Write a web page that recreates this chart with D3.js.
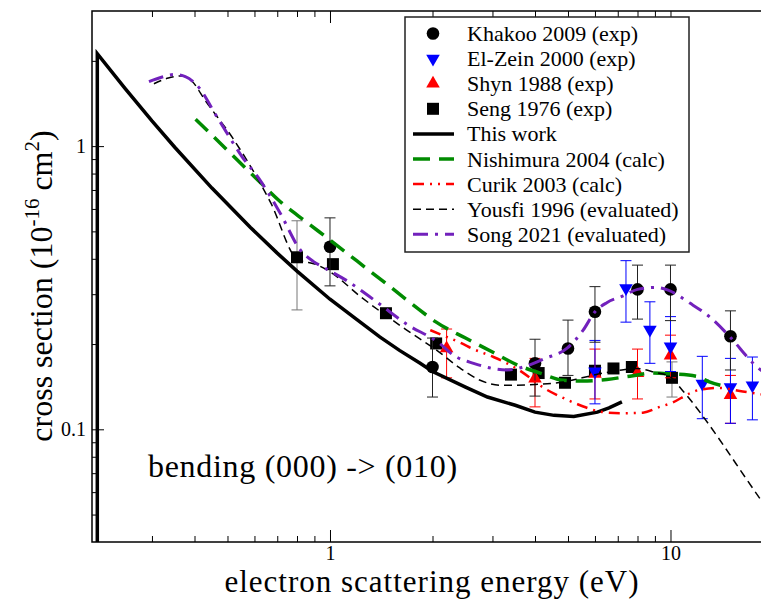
<!DOCTYPE html>
<html>
<head>
<meta charset="utf-8">
<script src="https://cdn.jsdelivr.net/npm/d3@7"></script>
<style>
	body { margin: 0; background: #fff; }
	text { font-family: "Liberation Serif", "Times New Roman", serif; fill: #000; }
</style>
</head>
<body>
<svg id="chart" width="761" height="599"></svg>
<script>
// values (energy in eV, cross section in 1e-16 cm^2)

// experiments
var khakooE  = [1, 2, 4, 5, 6, 8, 10, 15];
var khakooCS = [0.441, 0.166, 0.171, 0.193, 0.26, 0.312, 0.312, 0.213];
var khakooLo = [0.321, 0.13, 0.131, 0.155, 0.203, 0.245, 0.242, 0.162];
var khakooHi = [0.558, 0.21, 0.208, 0.243, 0.319, 0.38, 0.38, 0.262];

var elzeinE  = [6, 7.4, 8.7, 10, 12.4, 15, 17.4];
var elzeinCS = [0.16, 0.315, 0.225, 0.196, 0.145, 0.141, 0.143];
var elzeinLo = [0.123, 0.239, 0.171, 0.16, 0.109, 0.105, 0.108];
var elzeinHi = [0.206, 0.394, 0.282, 0.25, 0.181, 0.178, 0.18];

var shynE  = [2.2, 4, 6, 8, 10, 15];
var shynCS = [0.193, 0.151, 0.157, 0.158, 0.182, 0.132];
var shynLo = [0.152, 0.12, 0.128, 0.128, 0.152, 0.105];
var shynHi = [0.226, 0.178, 0.192, 0.192, 0.215, 0.155];

var sengE  = [0.8, 1.02, 1.46, 2.05, 3.4, 4.1, 4.9, 6, 6.8, 7.7, 10.1];
var sengCS = [0.405, 0.383, 0.257, 0.201, 0.156, 0.158, 0.146, 0.161, 0.164, 0.166, 0.152];
var sengLo = [0.264, null, null, null, null, null, null, null, null, null, 0.13];
var sengHi = [0.545, null, null, null, null, null, null, null, null, null, 0.173];

// calculations / evaluations
// this work drops straight down at its threshold, hence the repeated first energy
var thisWorkE  = [0.2073, 0.2073, 0.25, 0.3, 0.35, 0.45, 0.584, 0.7, 0.8, 1.0, 1.2, 1.4, 1.6, 1.84, 2.0, 2.5, 2.9, 3.5, 4.0, 4.55, 5.2, 6.1, 6.6, 7.2];
var thisWorkCS = [0.02, 2.12, 1.6, 1.227, 0.991, 0.711, 0.516, 0.419, 0.362, 0.288, 0.244, 0.212, 0.19, 0.171, 0.16, 0.141, 0.13, 0.1216, 0.115, 0.112, 0.111, 0.115, 0.119, 0.125];

var nishimuraE  = [0.403, 0.5, 0.6, 0.715, 0.85, 1.0, 1.2, 1.5, 1.92, 2.04, 2.5, 3.0, 3.54, 4.14, 4.84, 5.5, 6.5, 7.6, 8.9, 10, 11.9, 13.0, 14.8];
var nishimuraCS = [1.245, 0.966, 0.78, 0.636, 0.541, 0.466, 0.393, 0.319, 0.253, 0.24, 0.21, 0.1875, 0.169, 0.158, 0.149, 0.148, 0.15, 0.154, 0.158, 0.157, 0.154, 0.147, 0.141];

var curikE  = [1.97, 2.2, 2.44, 2.61, 3.02, 3.53, 4.33, 4.84, 5.3, 6.35, 7.1, 8.3, 9.3, 10.1, 11.4, 12.2, 13.9, 16.3, 20];
var curikCS = [0.224, 0.212, 0.201, 0.193, 0.18, 0.164, 0.138, 0.129, 0.123, 0.115, 0.114, 0.1145, 0.12, 0.124, 0.134, 0.138, 0.14, 0.136, 0.131];

var yousfiE  = [0.304, 0.335, 0.368, 0.394, 0.43, 0.52, 0.62, 0.67, 0.8, 0.92, 1.0, 1.23, 1.68, 2.06, 2.4, 2.76, 3.2, 4.0, 4.84, 5.5, 6.35, 7.2, 7.95, 9.0, 10, 10.8, 18.3, 20];
var yousfiCS = [1.66, 1.74, 1.77, 1.69, 1.45, 1.06, 0.75, 0.63, 0.40, 0.38, 0.36, 0.294, 0.224, 0.19, 0.165, 0.149, 0.143, 0.144, 0.147, 0.152, 0.158, 0.162, 0.164, 0.159, 0.153, 0.138, 0.057, 0.049];

var songE  = [0.294, 0.32, 0.348, 0.376, 0.403, 0.471, 0.552, 0.618, 0.715, 0.818, 0.895, 0.969, 1.12, 1.37, 1.68, 2.1, 2.3, 2.64, 3.3, 3.7, 4.28, 4.96, 5.54, 6.0, 6.5, 7.26, 8.0, 9.1, 9.84, 11.4, 13.0, 14.9, 17.5, 20];
var songCS = [1.69, 1.75, 1.79, 1.76, 1.66, 1.24, 0.917, 0.769, 0.578, 0.43, 0.391, 0.37, 0.335, 0.282, 0.235, 0.201, 0.183, 0.171, 0.162, 0.166, 0.178, 0.193, 0.224, 0.26, 0.28, 0.296, 0.312, 0.317, 0.31, 0.279, 0.25, 0.213, 0.171, 0.15];

// ticks
var xMajor = [1, 10];
var xMinor = [0.3, 0.4, 0.5, 0.6, 0.7, 0.8, 0.9, 2, 3, 4, 5, 6, 7, 8, 9];
var yMajor = [0.1, 1];
var yMinor = [0.05, 0.06, 0.07, 0.08, 0.09, 0.2, 0.3, 0.4, 0.5, 0.6, 0.7, 0.8, 0.9, 2];

var svg = d3.select("#chart");
var W = 761, H = 599;
// right edge of the frame sits past the picture (x = 20 eV), it is cut off
var plot = {left: 92, top: 11, right: 773, bottom: 542};

var x = d3.scaleLog().domain([0.2, 20]).range([plot.left, plot.right]);
var y = d3.scaleLog().domain([0.04, 3]).range([plot.bottom, plot.top]);

svg.append("rect").attr("width", W).attr("height", H).attr("fill", "#fff");

svg.append("clipPath").attr("id", "clip")
	.append("rect")
	.attr("x", plot.left).attr("y", plot.top)
	.attr("width", plot.right - plot.left).attr("height", plot.bottom - plot.top);

// axes, ticks all point inwards
function drawAxis(axis, tx, ty, labels) {
	var g = svg.append("g")
		.attr("transform", "translate(" + tx + "," + ty + ")")
		.call(axis);
	g.select(".domain").remove();
	g.selectAll(".tick line").attr("stroke", "#000").attr("stroke-width", 1);
	g.selectAll("text")
		.attr("font-family", "Liberation Serif, serif")
		.attr("font-size", 20);
	if (!labels) g.selectAll("text").remove();
	return g;
}
var fmt = function (d) { return d; };

drawAxis(d3.axisBottom(x).tickValues(xMajor).tickSize(-12).tickPadding(4).tickFormat(fmt), 0, plot.bottom, true);
drawAxis(d3.axisBottom(x).tickValues(xMinor).tickSize(-6), 0, plot.bottom, false);
drawAxis(d3.axisTop(x).tickValues(xMajor).tickSize(-12), 0, plot.top, false);
drawAxis(d3.axisTop(x).tickValues(xMinor).tickSize(-6), 0, plot.top, false);
drawAxis(d3.axisLeft(y).tickValues(yMajor).tickSize(-12).tickPadding(6).tickFormat(fmt), plot.left, 0, true);
drawAxis(d3.axisLeft(y).tickValues(yMinor).tickSize(-6), plot.left, 0, false);

var area = svg.append("g").attr("clip-path", "url(#clip)");

// experimental points -------------------------------------------------
function zip(E, cs, lo, hi) {
	return E.map(function (e, i) {
		return {e: e, cs: cs[i], lo: lo ? lo[i] : null, hi: hi ? hi[i] : null};
	});
}

var symCircle = d3.symbol().type(d3.symbolCircle).size(125);
var symSquare = d3.symbol().type(d3.symbolSquare).size(144);
var symTri = d3.symbol().type(d3.symbolTriangle).size(80);

var experiments = [
	{data: zip(sengE, sengCS, sengLo, sengHi), sym: symSquare, rot: 0, fill: "#000", bar: "#777"},
	{data: zip(shynE, shynCS, shynLo, shynHi), sym: symTri, rot: 0, fill: "#ff0000", bar: "#ff0000"},
	{data: zip(elzeinE, elzeinCS, elzeinLo, elzeinHi), sym: symTri, rot: 180, fill: "#0000ff", bar: "#0000ff"},
	{data: zip(khakooE, khakooCS, khakooLo, khakooHi), sym: symCircle, rot: 0, fill: "#000", bar: "#222"}
];

var cap = 5.5;
experiments.forEach(function (s) {
	var g = area.append("g");
	var withBars = s.data.filter(function (d) { return d.lo != null; });
	var bars = g.selectAll(".bar").data(withBars).enter().append("g")
		.attr("stroke", s.bar).attr("stroke-width", 1).attr("fill", "none");
	bars.append("line")
		.attr("x1", function (d) { return x(d.e); }).attr("x2", function (d) { return x(d.e); })
		.attr("y1", function (d) { return y(d.lo); }).attr("y2", function (d) { return y(d.hi); });
	bars.append("line")
		.attr("x1", function (d) { return x(d.e) - cap; }).attr("x2", function (d) { return x(d.e) + cap; })
		.attr("y1", function (d) { return y(d.lo); }).attr("y2", function (d) { return y(d.lo); });
	bars.append("line")
		.attr("x1", function (d) { return x(d.e) - cap; }).attr("x2", function (d) { return x(d.e) + cap; })
		.attr("y1", function (d) { return y(d.hi); }).attr("y2", function (d) { return y(d.hi); });

	g.selectAll(".pt").data(s.data).enter().append("path")
		.attr("d", s.sym)
		.attr("fill", s.fill)
		.attr("transform", function (d) {
			return "translate(" + x(d.e) + "," + y(d.cs) + ") rotate(" + s.rot + ")";
		});
});

// curves -------------------------------------------------------------
var curves = [
	{E: thisWorkE, cs: thisWorkCS, color: "#000", width: 3.5, dash: null, curve: d3.curveLinear},
	{E: nishimuraE, cs: nishimuraCS, color: "#008b00", width: 3.5, dash: "17,9"},
	{E: curikE, cs: curikCS, color: "#ff0000", width: 2.5, dash: "11,6,2,6,2,6"},
	{E: yousfiE, cs: yousfiCS, color: "#000", width: 1.5, dash: "8,5"},
	{E: songE, cs: songCS, color: "#7221bc", width: 3, dash: "15,7,3,7"}
];

curves.forEach(function (c) {
	var line = d3.line()
		.x(function (d) { return x(d[0]); })
		.y(function (d) { return y(d[1]); })
		.curve(c.curve || d3.curveMonotoneX);
	var pts = c.E.map(function (e, i) { return [e, c.cs[i]]; });
	area.append("path")
		.attr("d", line(pts))
		.attr("fill", "none")
		.attr("stroke", c.color)
		.attr("stroke-width", c.width)
		.attr("stroke-linejoin", "miter")
		.attr("stroke-dasharray", c.dash);
});

// frame
svg.append("rect")
	.attr("x", plot.left).attr("y", plot.top)
	.attr("width", plot.right - plot.left).attr("height", plot.bottom - plot.top)
	.attr("fill", "none").attr("stroke", "#000").attr("stroke-width", 1.5);

// legend -------------------------------------------------------------
var legendItems = [
	{label: "Khakoo 2009 (exp)", sym: symCircle, rot: 0, color: "#000"},
	{label: "El-Zein 2000 (exp)", sym: symTri, rot: 180, color: "#0000ff"},
	{label: "Shyn 1988 (exp)", sym: symTri, rot: 0, color: "#ff0000"},
	{label: "Seng 1976 (exp)", sym: symSquare, rot: 0, color: "#000"},
	{label: "This work", curve: curves[0]},
	{label: "Nishimura 2004 (calc)", curve: curves[1]},
	{label: "Curik 2003 (calc)", curve: curves[2]},
	{label: "Yousfi 1996 (evaluated)", curve: curves[3]},
	{label: "Song 2021 (evaluated)", curve: curves[4]}
];

var leg = svg.append("g").attr("transform", "translate(405,17)");
leg.append("rect")
	.attr("width", 284).attr("height", 235)
	.attr("fill", "#fff").attr("stroke", "#222").attr("stroke-width", 1.5);

legendItems.forEach(function (it, i) {
	var ry = 16.5 + i * 25.1;
	if (it.curve) {
		leg.append("line")
			.attr("x1", 8).attr("x2", 49).attr("y1", ry).attr("y2", ry)
			.attr("stroke", it.curve.color)
			.attr("stroke-width", it.curve.width)
			.attr("stroke-dasharray", it.curve.dash);
	} else {
		leg.append("path")
			.attr("d", it.sym)
			.attr("fill", it.color)
			.attr("transform", "translate(28," + ry + ") rotate(" + it.rot + ")");
	}
	leg.append("text")
		.attr("x", 62).attr("y", ry + 7.5)
		.attr("font-size", 22)
		.text(it.label);
});

// labels
svg.append("text")
	.attr("x", 432).attr("y", 592)
	.attr("text-anchor", "middle")
	.attr("font-size", 31)
	.attr("letter-spacing", 1)
	.text("electron scattering energy (eV)");

var ylab = svg.append("text")
	.attr("transform", "translate(52,286) rotate(-90)")
	.attr("text-anchor", "middle")
	.attr("font-size", 32);
ylab.append("tspan").text("cross section (10");
ylab.append("tspan").attr("font-size", 21).attr("dy", -13).text("-16");
ylab.append("tspan").attr("dy", 13).text(" cm");
ylab.append("tspan").attr("font-size", 21).attr("dy", -13).text("2");
ylab.append("tspan").attr("dy", 13).text(")");

svg.append("text")
	.attr("x", 148).attr("y", 477)
	.attr("font-size", 32)
	.attr("letter-spacing", 0.7)
	.text("bending (000) -> (010)");
</script>
</body>
</html>
